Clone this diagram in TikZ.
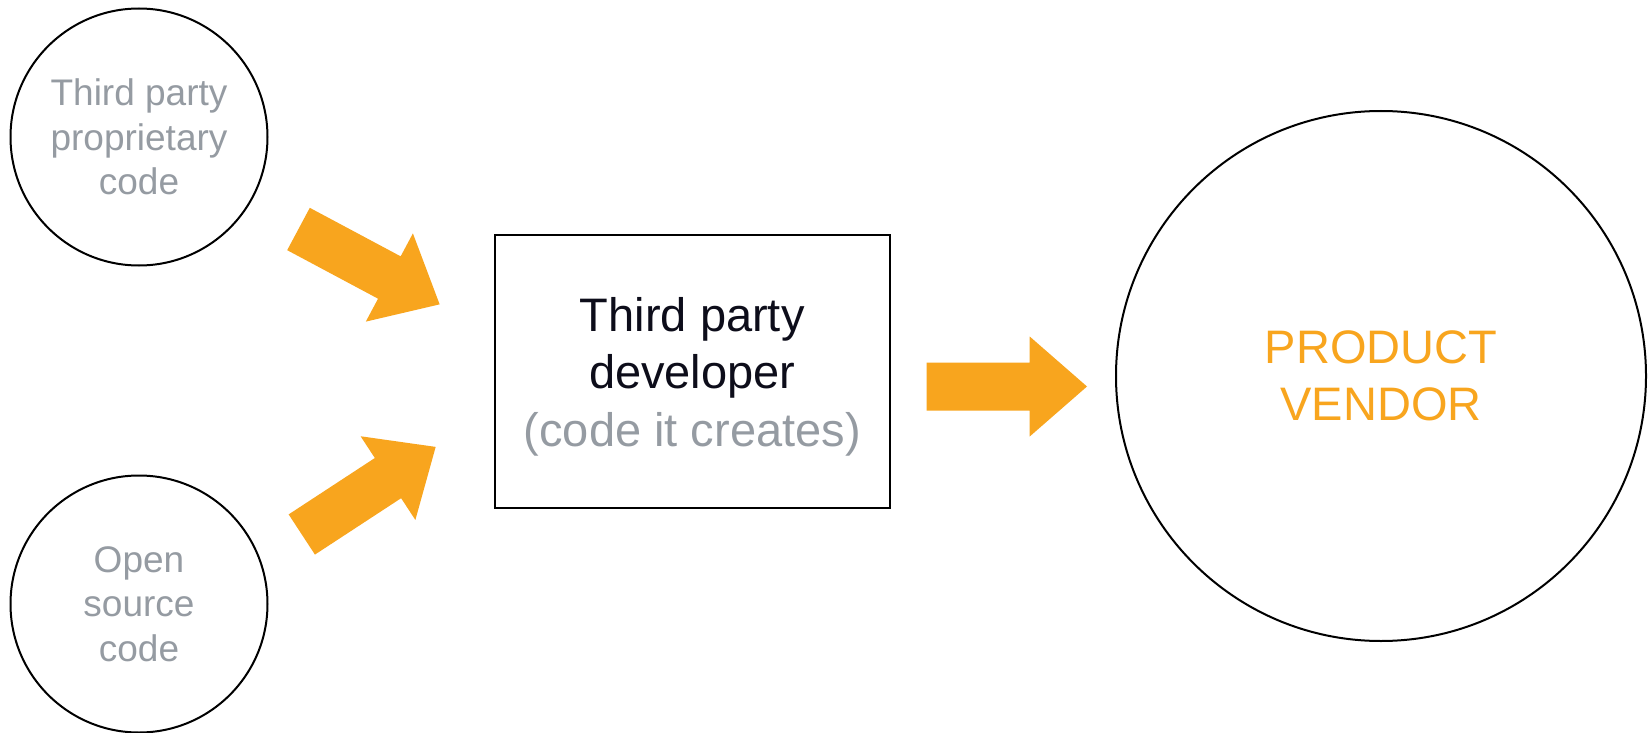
\documentclass[tikz,border=0pt]{standalone}
\usepackage{fontspec}
\setmainfont{Liberation Sans}
\definecolor{txtgray}{HTML}{959BA2}
\definecolor{txtdark}{HTML}{0D0D1A}
\definecolor{orng}{HTML}{F8A51E}
\begin{document}
\begin{tikzpicture}[x=1pt,y=-1pt,
  srccircle/.style={circle, draw=black, line width=2pt, minimum size=257pt, inner sep=0pt,
     align=center, text=txtgray, font=\fontsize{37}{44.5}\selectfont},
  devbox/.style={rectangle, draw=black, line width=2.2pt, minimum width=395pt, minimum height=273pt, inner sep=0pt},
  devtext/.style={align=center, inner sep=0pt, font=\fontsize{47}{57.5}\selectfont},
  vendorcircle/.style={circle, draw=black, line width=2pt, minimum size=530pt, inner sep=0pt,
     align=center, text=orng, font=\fontsize{47}{57}\selectfont},
  fatarrow/.style={fill=orng, draw=none}]
\useasboundingbox (0,0) rectangle (1650,733);
\fill[white] (0,0) rectangle (1650,733);

\node[srccircle] (prop) at (139,137) {Third party\\proprietary\\code};
\node[srccircle] (open) at (139,604) {Open\\source\\code};
\node[devbox] (dev) at (692.3,371.5) {};
\node[devtext] (devlabel) at (692.3,376.5) {\textcolor{txtdark}{Third party}\\\textcolor{txtdark}{developer}\\\textcolor{txtgray}{(code it creates)}};
\node[vendorcircle] (vendor) at (1381,376) {PRODUCT\\VENDOR};

\coordinate (a1) at (298.5,229);
\coordinate (a2) at (301.8,534.5);
\coordinate (a3) at (926.7,386.5);

\begin{scope}[shift={(a1)}, rotate=-28.1]
  \fill[fatarrow] (0,-24) -- (103,-24) -- (103,-50) -- (160,0) -- (103,50) -- (103,24) -- (0,24) -- cycle;
\end{scope}
\begin{scope}[shift={(a2)}, rotate=33.2]
  \fill[fatarrow] (0,-24) -- (103,-24) -- (103,-50) -- (160,0) -- (103,50) -- (103,24) -- (0,24) -- cycle;
\end{scope}
\begin{scope}[shift={(a3)}]
  \fill[fatarrow] (0,-24) -- (103,-24) -- (103,-50) -- (160.3,0) -- (103,50) -- (103,24) -- (0,24) -- cycle;
\end{scope}
\end{tikzpicture}
\end{document}
